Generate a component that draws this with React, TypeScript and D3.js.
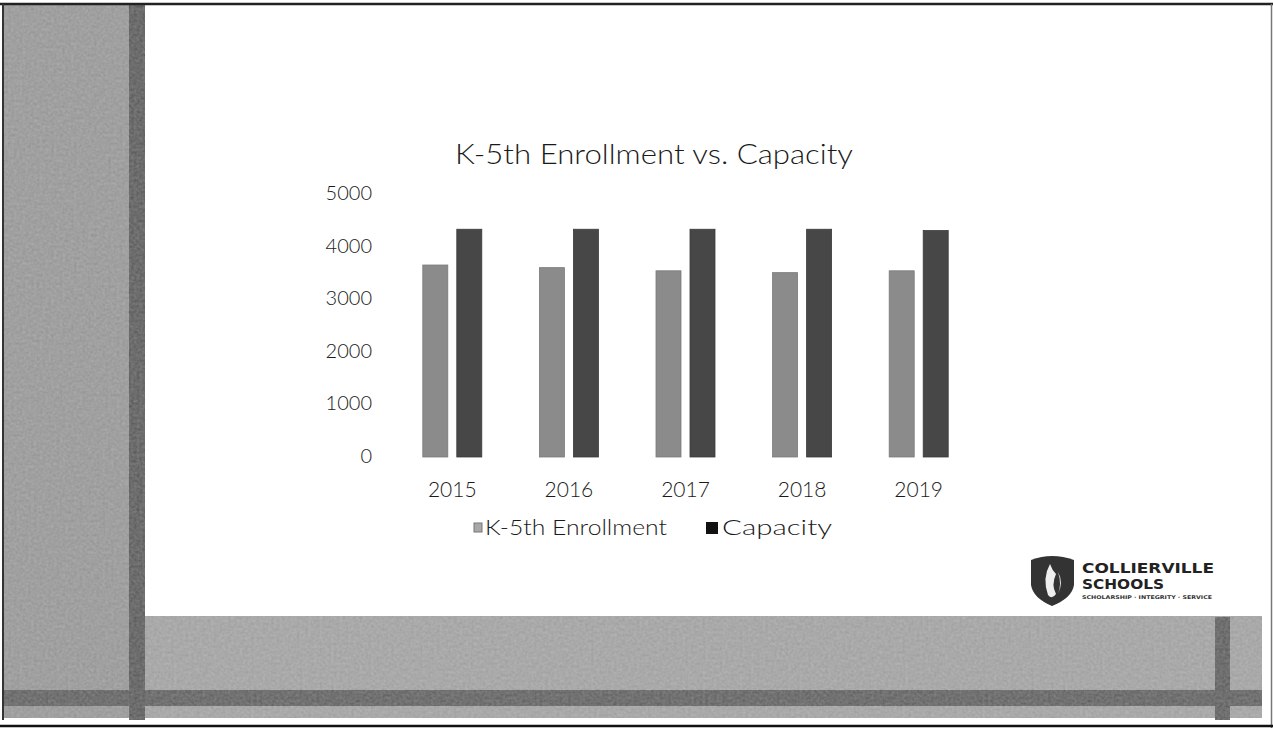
import React from "react";
import * as d3 from "d3";

const years = ["2015", "2016", "2017", "2018", "2019"];
const enrollment = [3650, 3600, 3540, 3505, 3540];
const capacity = [4330, 4330, 4330, 4330, 4305];
const seriesNames = ["K-5th Enrollment", "Capacity"];
const seriesColors = ["#8b8b8b", "#474747"];
const yTicks = [0, 1000, 2000, 3000, 4000, 5000];
const title = "K-5th Enrollment vs. Capacity";

const W = 1273;
const H = 730;
const FONT = "Lato, 'Open Sans', 'DejaVu Sans', sans-serif";

export default function App() {
  const y = d3.scaleLinear().domain([0, 5000]).range([457, 194]);
  const x0 = d3.scaleBand<string>().domain(years).range([394, 977]).padding(0);
  const x1 = d3
    .scaleBand<string>()
    .domain(seriesNames)
    .range([0, x0.bandwidth()])
    .paddingInner(0.2647)
    .paddingOuter(0.847);
  const values = [enrollment, capacity];

  return (
    <svg
      width={W}
      height={H}
      viewBox={`0 0 ${W} ${H}`}
      style={{ position: "absolute", left: 0, top: 0, background: "#fff" }}
    >
      <defs>
        <filter id="grain" x="0" y="0" width="100%" height="100%">
          <feTurbulence type="fractalNoise" baseFrequency="0.35" numOctaves="2" seed="3" result="n" />
          <feColorMatrix in="n" type="saturate" values="0" result="g" />
          <feComponentTransfer in="g" result="g2">
            <feFuncA type="linear" slope="0" intercept="0.18" />
          </feComponentTransfer>
          <feComposite in="g2" in2="SourceGraphic" operator="in" result="tex" />
          <feMerge>
            <feMergeNode in="SourceGraphic" />
            <feMergeNode in="tex" />
          </feMerge>
        </filter>
      </defs>

      {/* slide frame */}
      <rect x={0} y={0} width={W} height={H} fill="#ffffff" />
      <g filter="url(#grain)">
        <rect x={4} y={4} width={130} height={714} fill="#9a9a9a" />
        <rect x={134} y={616} width={1128} height={102} fill="#a6a6a6" />
        <rect x={4} y={690} width={1258} height={16} fill="#595959" />
        <rect x={129} y={4} width={16} height={716} fill="#505050" />
        <rect x={1215} y={617} width={15} height={103} fill="#555555" />
      </g>
      <line x1={0} y1={4} x2={1273} y2={4} stroke="#222" strokeWidth={2.5} />
      <line x1={3} y1={4} x2={3} y2={720} stroke="#333" strokeWidth={2} />
      <line x1={1271.5} y1={4} x2={1271.5} y2={728} stroke="#777" strokeWidth={1.5} />
      <line x1={0} y1={726} x2={1273} y2={726} stroke="#111" strokeWidth={2.5} />

      {/* title */}
      <text
        x={654}
        y={164}
        textAnchor="middle"
        fontFamily={FONT}
        fontWeight={300}
        fontSize={27}
        fill="#1a1a1a"
        textLength={398}
        lengthAdjust="spacingAndGlyphs"
      >
        {title}
      </text>

      {/* y axis labels */}
      {yTicks.map((t) => (
        <text
          key={t}
          x={372}
          y={y(t) + 1}
          textAnchor="end"
          dominantBaseline="middle"
          fontFamily={FONT}
          fontWeight={300}
          fontSize={20}
          fill="#1a1a1a"
        >
          {t}
        </text>
      ))}

      {/* bars */}
      {years.map((yr, i) => (
        <g key={yr} transform={`translate(${x0(yr)},0)`}>
          {seriesNames.map((s, j) => (
            <rect
              key={s}
              x={x1(s)}
              y={y(values[j][i])}
              width={x1.bandwidth()}
              height={y(0) - y(values[j][i])}
              fill={seriesColors[j]}
              stroke={j === 0 ? "#7a7a7a" : "#3a3a3a"}
              strokeWidth={0.8}
            />
          ))}
        </g>
      ))}

      {/* x labels */}
      {years.map((yr) => (
        <text
          key={yr}
          x={(x0(yr) as number) + x0.bandwidth() / 2}
          y={497}
          textAnchor="middle"
          fontFamily={FONT}
          fontWeight={300}
          fontSize={21}
          fill="#1a1a1a"
        >
          {yr}
        </text>
      ))}

      {/* legend */}
      <g fontFamily={FONT} fontWeight={300} fontSize={21} fill="#1a1a1a">
        <rect x={474} y={523} width={8} height={9} fill="#a8a8a8" stroke="#777" strokeWidth={1} />
        <text x={485} y={535} textLength={182} lengthAdjust="spacingAndGlyphs">
          {seriesNames[0]}
        </text>
        <rect x={706} y={522} width={12} height={12} fill="#111" />
        <text x={722} y={535} textLength={110} lengthAdjust="spacingAndGlyphs">
          {seriesNames[1]}
        </text>
      </g>

      {/* logo */}
      <g>
        <path
          d="M1031,560 Q1052,552 1074,560 L1074,585 Q1072,598 1052,606 Q1033,598 1031,585 Z"
          fill="#333"
        />
        <path
          d="M1050,564 Q1042,578 1048,595 Q1052,600 1056,594 Q1051,585 1056,574 Q1052,570 1050,564 Z"
          fill="#eee"
        />
        <path d="M1058,572 Q1064,582 1058,594 Q1062,584 1058,572 Z" fill="#ddd" />
        <text x={1082} y={573} fontFamily="'DejaVu Sans', sans-serif" fontWeight="bold" fontSize={14} fill="#222" textLength={132} lengthAdjust="spacingAndGlyphs">
          COLLIERVILLE
        </text>
        <text x={1082} y={589} fontFamily="'DejaVu Sans', sans-serif" fontWeight="bold" fontSize={14} fill="#222" textLength={82} lengthAdjust="spacingAndGlyphs">
          SCHOOLS
        </text>
        <text x={1082} y={599} fontFamily="'DejaVu Sans', sans-serif" fontWeight="bold" fontSize={5} fill="#333" textLength={130} lengthAdjust="spacingAndGlyphs">
          SCHOLARSHIP · INTEGRITY · SERVICE
        </text>
      </g>
    </svg>
  );
}
